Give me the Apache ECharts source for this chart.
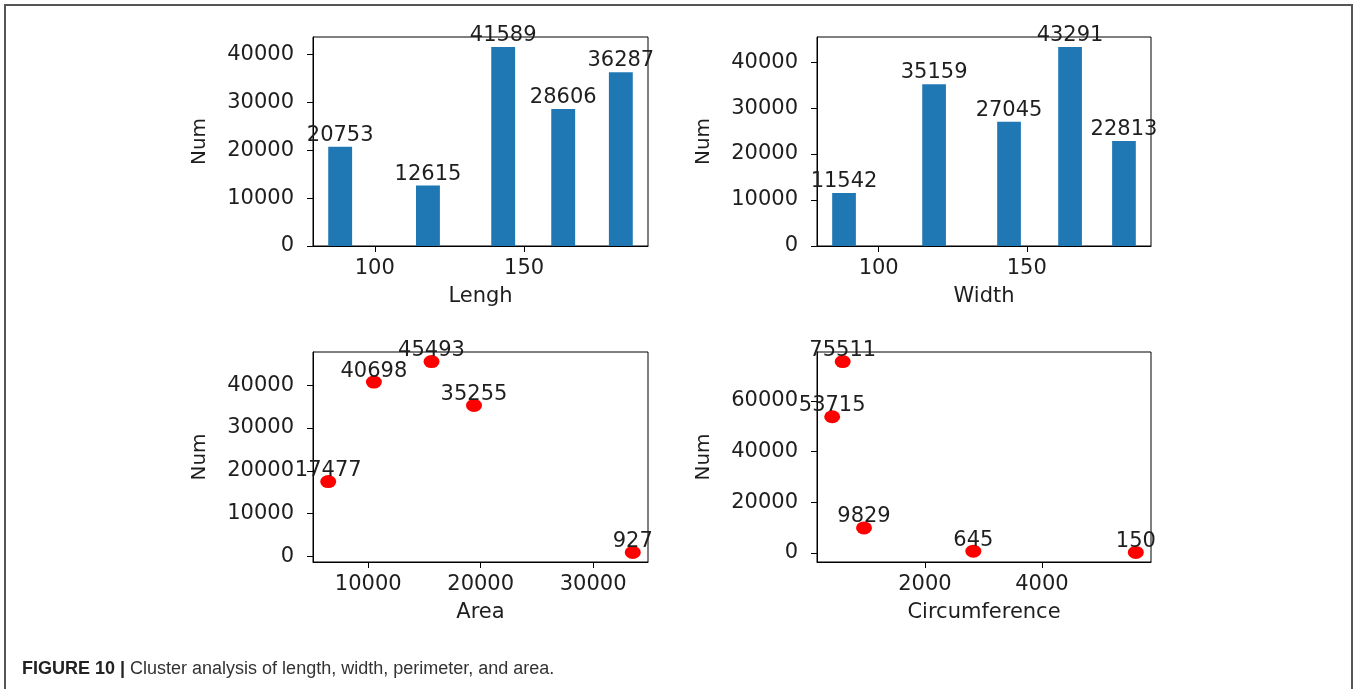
<!DOCTYPE html>
<html>
<head>
<meta charset="utf-8">
<script src="https://cdn.jsdelivr.net/npm/echarts@6/dist/echarts.min.js"></script>
<style>
html,body{margin:0;padding:0;background:#fff;}
#chart{width:1355px;height:689px;}
</style>
</head>
<body>
<div id="chart"></div>
<script>
// ---- data ----
const lengthCenters = [88.4, 117.8, 143.0, 163.1, 182.4];
const lengthNums = [20753, 12615, 41589, 28606, 36287];
const widthCenters = [88.3, 118.7, 144.0, 164.6, 182.8];
const widthNums = [11542, 35159, 27045, 43291, 22813];
const areaValues = [6444, 10504, 15630, 19407, 33526];
const areaNums = [17477, 40698, 45493, 35255, 927];
const circValues = [414, 594, 958, 2827, 5604];
const circNums = [53715, 75511, 9829, 645, 150];

const lengthTicks = [100, 150];
const widthTicks = [100, 150];
const areaTicks = [10000, 20000, 30000];
const circTicks = [2000, 4000];
const lengthNumTicks = [0, 10000, 20000, 30000, 40000];
const widthNumTicks = [0, 10000, 20000, 30000, 40000];
const areaNumTicks = [0, 10000, 20000, 30000, 40000];
const circNumTicks = [0, 20000, 40000, 60000];

const BAR_W = 8;
const FONT = 'DejaVu Sans';
const TXT = '#1e1e1e';
const FS = 21;

function pad(lo, hi) { const r = hi - lo; return [lo - 0.05 * r, hi + 0.05 * r]; }
function barXRange(c) { return pad(Math.min(...c) - BAR_W / 2, Math.max(...c) + BAR_W / 2); }

const lx = barXRange(lengthCenters), wx = barXRange(widthCenters);
const ax = pad(Math.min(...areaValues), Math.max(...areaValues));
const ay = pad(Math.min(...areaNums), Math.max(...areaNums));
const cx = pad(Math.min(...circValues), Math.max(...circValues));
const cy = pad(Math.min(...circNums), Math.max(...circNums));

const plain = v => String(v);

function xAxisOf(idx, name, range, ticks) {
  return {
    type: 'value', gridIndex: idx, min: range[0], max: range[1],
    name: name, nameLocation: 'middle', nameGap: 40,
    nameTextStyle: { fontFamily: FONT, fontSize: FS, color: TXT },
    axisLine: { show: true, onZero: false, lineStyle: { color: '#000', width: 1 } },
    axisTick: { show: true, length: 6, customValues: ticks, lineStyle: { color: '#000' } },
    axisLabel: { customValues: ticks, formatter: plain, margin: 12, fontFamily: FONT, fontSize: FS, color: TXT },
    splitLine: { show: false }
  };
}
function yAxisOf(idx, range, ticks) {
  return {
    type: 'value', gridIndex: idx, min: range[0], max: range[1],
    name: 'Num', nameLocation: 'middle', nameGap: 103,
    nameTextStyle: { fontFamily: FONT, fontSize: 20, color: TXT },
    axisLine: { show: true, onZero: false, lineStyle: { color: '#000', width: 1 } },
    axisTick: { show: true, length: 6, customValues: ticks, lineStyle: { color: '#000' } },
    axisLabel: { customValues: ticks, formatter: plain, margin: 19, fontFamily: FONT, fontSize: FS, color: TXT },
    splitLine: { show: false }
  };
}

function renderBar(params, api) {
  const x = api.value(0), y = api.value(1);
  const p0 = api.coord([x - BAR_W / 2, y]);
  const p1 = api.coord([x + BAR_W / 2, 0]);
  return {
    type: 'group',
    children: [
      { type: 'rect', shape: { x: p0[0], y: p0[1], width: p1[0] - p0[0], height: p1[1] - p0[1] },
        style: { fill: '#1f77b4' } },
      { type: 'text', style: { text: String(y), x: (p0[0] + p1[0]) / 2, y: p0[1] - 1,
        align: 'center', verticalAlign: 'bottom', fill: TXT, fontFamily: FONT, fontSize: FS } }
    ]
  };
}

function zip(a, b) { return a.map((v, i) => [v, b[i]]); }

const grids = [
  { left: 313, top: 37, width: 335, height: 209 },
  { left: 817, top: 37, width: 334, height: 209 },
  { left: 313, top: 352, width: 335, height: 210 },
  { left: 817, top: 352, width: 334, height: 210 }
].map(g => Object.assign(g, { show: true, borderColor: '#000', borderWidth: 1, backgroundColor: 'transparent', containLabel: false }));

const scatterLabel = {
  show: true, position: 'top', distance: -6,
  formatter: p => String(p.value[1]),
  fontFamily: FONT, fontSize: FS, color: TXT
};

const option = {
  animation: false,
  backgroundColor: '#fff',
  grid: grids,
  xAxis: [
    xAxisOf(0, 'Lengh', lx, lengthTicks),
    xAxisOf(1, 'Width', wx, widthTicks),
    xAxisOf(2, 'Area', ax, areaTicks),
    xAxisOf(3, 'Circumference', cx, circTicks)
  ],
  yAxis: [
    yAxisOf(0, [0, Math.max(...lengthNums) * 1.05], lengthNumTicks),
    yAxisOf(1, [0, Math.max(...widthNums) * 1.05], widthNumTicks),
    yAxisOf(2, ay, areaNumTicks),
    yAxisOf(3, cy, circNumTicks)
  ],
  series: [
    { type: 'custom', xAxisIndex: 0, yAxisIndex: 0, renderItem: renderBar, data: zip(lengthCenters, lengthNums), clip: false },
    { type: 'custom', xAxisIndex: 1, yAxisIndex: 1, renderItem: renderBar, data: zip(widthCenters, widthNums), clip: false },
    { type: 'scatter', xAxisIndex: 2, yAxisIndex: 2, symbol: 'circle', symbolSize: [16, 13],
      itemStyle: { color: '#ff0000', opacity: 1 }, label: scatterLabel, data: zip(areaValues, areaNums) },
    { type: 'scatter', xAxisIndex: 3, yAxisIndex: 3, symbol: 'circle', symbolSize: [16, 13],
      itemStyle: { color: '#ff0000', opacity: 1 }, label: scatterLabel, data: zip(circValues, circNums) }
  ],
  graphic: [
    { type: 'rect', z: 100, silent: true,
      shape: { x: 5, y: 5, width: 1347, height: 720 },
      style: { fill: 'none', stroke: '#555', lineWidth: 2 } },
    { type: 'text', left: 22, top: 660, z: 100,
      style: {
        text: '{b|FIGURE 10 |} {r|Cluster analysis of length, width, perimeter, and area.}',
        rich: {
          b: { fontFamily: 'Liberation Sans', fontWeight: 'bold', fontSize: 18, fill: '#222' },
          r: { fontFamily: 'Liberation Sans', fontSize: 18, fill: '#333' }
        },
        fontFamily: 'Liberation Sans', fontSize: 18
      } }
  ]
};

const chart = echarts.init(document.getElementById('chart'), null, { renderer: 'canvas' });
chart.setOption(option);
</script>
</body>
</html>
